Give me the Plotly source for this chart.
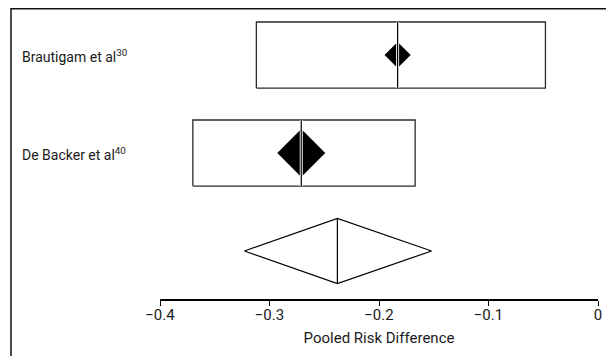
import plotly.graph_objects as go
import math

# ---- data ----
studies = ["Brautigam et al<sup>30</sup>", "De Backer et al<sup>40</sup>"]
risk_diff = [-0.183, -0.271]
ci_low = [-0.312, -0.370]
ci_high = [-0.048, -0.167]
weights = [23, 77]

pooled_rd = -0.238
pooled_low = -0.323
pooled_high = -0.152

x_ticks = [-0.4, -0.3, -0.2, -0.1, 0]
x_tick_labels = ["\u22120.4", "\u22120.3", "\u22120.2", "\u22120.1", "0"]
x_title = "Pooled Risk Difference"

# ---- layout constants (figure sits at an 8px page offset) ----
W, H = 606, 348
ML, MR, MT, MB = 152, 16, 0, 57
FONT = "Roboto, Liberation Sans, sans-serif"
INK = "#1a1a1a"
half_box = 0.337
half_pool = 0.332

rows = [3, 2]
pooled_row = 1

fig = go.Figure()

for i in range(len(studies)):
    y = rows[i]
    fig.add_trace(go.Scatter(
        x=[ci_low[i], ci_high[i], ci_high[i], ci_low[i], ci_low[i]],
        y=[y - half_box, y - half_box, y + half_box, y + half_box, y - half_box],
        mode="lines", fill="toself", fillcolor="white",
        line=dict(color="#2a2a2a", width=1.3), hoverinfo="skip"))
    fig.add_trace(go.Scatter(
        x=[risk_diff[i]], y=[y], mode="markers",
        marker=dict(symbol="diamond", size=4.2 * math.sqrt(weights[i]),
                    color="black", line=dict(width=0)),
        hoverinfo="skip"))
    fig.add_trace(go.Scatter(
        x=[risk_diff[i], risk_diff[i]], y=[y - half_box, y + half_box],
        mode="lines", line=dict(color="white", width=3), hoverinfo="skip"))
    fig.add_trace(go.Scatter(
        x=[risk_diff[i], risk_diff[i]], y=[y - half_box, y + half_box],
        mode="lines", line=dict(color="black", width=1.2), hoverinfo="skip"))

fig.add_trace(go.Scatter(
    x=[pooled_low, pooled_rd, pooled_high, pooled_rd, pooled_low],
    y=[pooled_row, pooled_row + half_pool, pooled_row, pooled_row - half_pool, pooled_row],
    mode="lines", fill="toself", fillcolor="white",
    line=dict(color="black", width=1.2), hoverinfo="skip"))
fig.add_trace(go.Scatter(
    x=[pooled_rd, pooled_rd], y=[pooled_row - half_pool, pooled_row + half_pool],
    mode="lines", line=dict(color="black", width=1.2), hoverinfo="skip"))

pw = W - ML - MR
ph = H - MT - MB

for i in range(len(studies)):
    fig.add_annotation(
        x=(12 - ML) / pw, xref="paper", xanchor="left",
        y=rows[i], yref="y", yanchor="middle", yshift=-1,
        text=studies[i], showarrow=False,
        font=dict(family=FONT, size=14, color=INK))

# outer frame (left & top)
fig.add_shape(type="line", xref="paper", yref="paper",
              x0=(3 - ML) / pw, x1=(3 - ML) / pw,
              y0=-(MB + 5) / ph, y1=1,
              line=dict(color="#111111", width=1.5))
fig.add_shape(type="line", xref="paper", yref="paper",
              x0=(3 - ML) / pw, x1=(W - ML + 5) / pw,
              y0=1 - 0.75 / ph, y1=1 - 0.75 / ph,
              line=dict(color="#111111", width=1.5))

fig.update_layout(
    width=W, height=H,
    margin=dict(l=ML, r=MR, t=MT, b=MB, pad=0),
    paper_bgcolor="white", plot_bgcolor="white",
    showlegend=False,
    xaxis=dict(
        range=[-0.4, 0], tickvals=x_ticks, ticktext=x_tick_labels,
        showgrid=False, zeroline=False, showline=True,
        linecolor="black", linewidth=1.5,
        ticks="outside", ticklen=5, tickwidth=1.2, tickcolor="black",
        ticklabelstandoff=-4,
        tickfont=dict(family=FONT, size=15, color=INK),
        title=dict(text=x_title, font=dict(family=FONT, size=15, color=INK), standoff=10),
        fixedrange=True),
    yaxis=dict(
        range=[0.51, 3.48], showgrid=False, zeroline=False,
        showline=False, showticklabels=False, ticks="", fixedrange=True),
)

fig.write_html("out.html")
